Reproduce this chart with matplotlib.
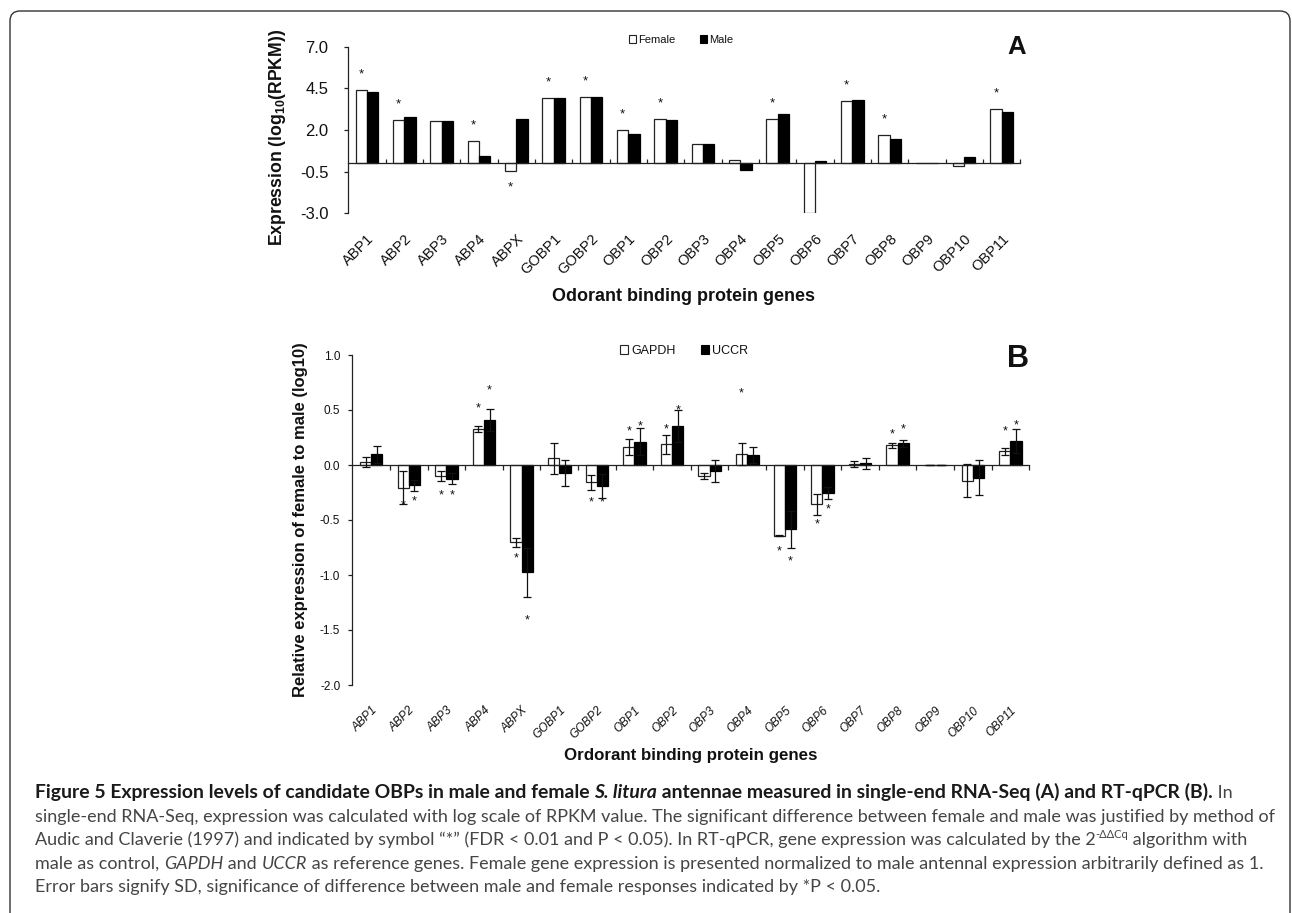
import matplotlib
matplotlib.use('Agg')
import matplotlib.pyplot as plt
import numpy as np
from matplotlib.patches import Patch, FancyBboxPatch
from matplotlib.transforms import IdentityTransform, blended_transform_factory, offset_copy
from matplotlib.font_manager import FontProperties

plt.rcParams['font.family'] = ['Liberation Sans', 'DejaVu Sans']
plt.rcParams['mathtext.fontset'] = 'custom'
plt.rcParams['mathtext.rm'] = 'Liberation Sans'
plt.rcParams['mathtext.bf'] = 'Liberation Sans:bold'
plt.rcParams['mathtext.it'] = 'Liberation Sans:italic'
plt.rcParams['axes.unicode_minus'] = False

# ---------------- data ----------------
genes = ['ABP1', 'ABP2', 'ABP3', 'ABP4', 'ABPX', 'GOBP1', 'GOBP2', 'OBP1', 'OBP2',
         'OBP3', 'OBP4', 'OBP5', 'OBP6', 'OBP7', 'OBP8', 'OBP9', 'OBP10', 'OBP11']

# Panel A: log10(RPKM)
female_rpkm = [4.40, 2.58, 2.56, 1.36, -0.46, 3.90, 4.00, 2.00, 2.68, 1.16,
               0.20, 2.64, -3.00, 3.76, 1.68, 0.00, -0.16, 3.24]
male_rpkm = [4.28, 2.76, 2.56, 0.46, 2.68, 3.94, 3.98, 1.78, 2.62, 1.16,
             -0.42, 2.98, 0.12, 3.80, 1.44, 0.00, 0.38, 3.08]
# +1: star above female bar, -1: star below female bar, 0: none
sig_rpkm = [1, 1, 0, 1, -1, 1, 1, 1, 1, 0, 0, 1, 0, 1, 1, 0, 0, 1]
a_yticks = [-3.0, -0.5, 2.0, 4.5, 7.0]

# Panel B: relative expression (log10), with SD
gapdh = [0.027, -0.206, -0.100, 0.327, -0.703, 0.060, -0.158, 0.164, 0.188, -0.100,
         0.100, -0.642, -0.358, 0.010, 0.179, 0.000, -0.142, 0.124]
gapdh_sd = [0.048, 0.147, 0.045, 0.023, 0.040, 0.143, 0.065, 0.070, 0.087, 0.027,
            0.097, 0.005, 0.094, 0.025, 0.020, 0.000, 0.150, 0.030]
uccr = [0.097, -0.185, -0.124, 0.410, -0.976, -0.073, -0.194, 0.212, 0.358, -0.055,
        0.088, -0.585, -0.258, 0.015, 0.197, 0.000, -0.115, 0.218]
uccr_sd = [0.075, 0.050, 0.052, 0.102, 0.224, 0.120, 0.109, 0.124, 0.145, 0.100,
           0.073, 0.170, 0.055, 0.050, 0.033, 0.000, 0.160, 0.106]
# significance star heights (data units)
star_gapdh = [None, -0.327, -0.236, 0.555, -0.812, None, -0.306, 0.342, 0.364, None,
              0.688, -0.752, -0.500, None, 0.318, None, None, 0.342]
star_uccr = [None, -0.297, -0.236, 0.712, -1.373, None, -0.306, 0.390, 0.530, None,
             None, -0.840, -0.370, None, 0.358, None, None, 0.394]
b_yticks = [-2.0, -1.5, -1.0, -0.5, 0.0, 0.5, 1.0]

caption_lines = [
    [("Figure 5 Expression levels of candidate OBPs in male and female ", 'bold', 'normal', 'n'),
     ("S. litura", 'bold', 'italic', 'n'),
     (" antennae measured in single-end RNA-Seq (A) and RT-qPCR (B).", 'bold', 'normal', 'n'),
     (" In", 'normal', 'normal', 'n')],
    [("single-end RNA-Seq, expression was calculated with log scale of RPKM value. The significant "
      "difference between female and male was justified by method of", 'normal', 'normal', 'n')],
    [("Audic and Claverie (1997) and indicated by symbol \u201c*\u201d (FDR < 0.01 and P < 0.05). "
      "In RT-qPCR, gene expression was calculated by the 2", 'normal', 'normal', 'n'),
     ("-\u0394\u0394Cq", 'normal', 'normal', 'sup'),
     (" algorithm with", 'normal', 'normal', 'n')],
    [("male as control, ", 'normal', 'normal', 'n'),
     ("GAPDH", 'normal', 'italic', 'n'),
     (" and ", 'normal', 'normal', 'n'),
     ("UCCR", 'normal', 'italic', 'n'),
     (" as reference genes. Female gene expression is presented normalized to male antennal "
      "expression arbitrarily defined as 1.", 'normal', 'normal', 'n')],
    [("Error bars signify SD, significance of difference between male and female responses "
      "indicated by *P < 0.05.", 'normal', 'normal', 'n')],
]

# ---------------- figure ----------------
W, H = 1292, 913
DPI = 100
fig = plt.figure(figsize=(W / DPI, H / DPI), dpi=DPI)
fig.patch.set_facecolor('white')


def fx(px):
    return px / W


def fy(py):
    return 1 - py / H


n = len(genes)
x = np.arange(n)
bw = 0.3
PT = 72.0 / DPI  # points per pixel


def setup_axes(ax, ylim, yticks, tick_fs, tick_pad, xdir):
    ax.set_xlim(-0.5, n - 0.5)
    ax.set_ylim(*ylim)
    ax.set_facecolor('none')
    for s in ('top', 'right'):
        ax.spines[s].set_visible(False)
    ax.spines['bottom'].set_position(('data', 0))
    for s in ('left', 'bottom'):
        ax.spines[s].set_linewidth(0.9)
        ax.spines[s].set_color('#222222')
    ax.set_xticks(x + 0.5)
    ax.set_xticklabels([])
    ax.tick_params(axis='x', direction=xdir, length=4.5 * PT, width=0.9, color='#222222')
    ax.set_yticks(yticks)
    ax.set_yticklabels([f'{v:.1f}' for v in yticks])
    ax.tick_params(axis='y', direction='out', length=4.5 * PT, width=0.9, color='#222222',
                   labelsize=tick_fs, pad=tick_pad, labelcolor='#111111')


def put_star(ax, xi, yi, fs, dy_pts):
    # centre the asterisk glyph at (xi, yi) shifted by dy_pts
    ax.annotate('*', xy=(xi, yi), xytext=(0, dy_pts - 0.56 * fs), textcoords='offset points',
                ha='center', va='baseline', fontsize=fs, color='#111111', zorder=5)


def cat_labels(ax, fs, pad_pts, italic):
    base = blended_transform_factory(ax.transData, ax.transAxes)
    tr = offset_copy(base, fig=fig, x=0, y=-pad_pts, units='points')
    for i, g in enumerate(genes):
        ax.text(i, 0, g, transform=tr, rotation=45, rotation_mode='anchor',
                ha='right', va='top', fontsize=fs, color='#111111',
                style='italic' if italic else 'normal')


# ---------- Panel A ----------
axA = fig.add_axes([fx(348.3), fy(213.3), (1020.3 - 348.3) / W, (213.3 - 46.7) / H])
setup_axes(axA, (-3.0, 7.0), a_yticks, 12, 11, 'in')
axA.bar(x - bw / 2, female_rpkm, width=bw, color='white', edgecolor='#222222', linewidth=0.9, zorder=2)
axA.bar(x + bw / 2, male_rpkm, width=bw, color='black', edgecolor='black', linewidth=0.9, zorder=2)
for i, s in enumerate(sig_rpkm):
    if s > 0:
        put_star(axA, i - bw / 2, max(female_rpkm[i], 0), 9.5, 20 * PT)
    elif s < 0:
        put_star(axA, i - bw / 2, min(female_rpkm[i], 0), 9.5, -12 * PT)
cat_labels(axA, 10.5, 13, False)
fig.text(fx(684), fy(301), 'Odorant binding protein genes', ha='center', va='baseline',
         fontsize=13, fontweight='bold', color='#111111')
fig.text(fx(278), fy(137), r'Expression (log$_{\mathbf{10}}$(RPKM))', rotation=90,
         ha='center', va='center', fontsize=12.7, fontweight='bold', color='#111111')
fig.text(fx(1017), fy(53.5), 'A', ha='center', va='baseline', fontsize=18.5,
         fontweight='bold', color='#111111')
legA = fig.legend(handles=[Patch(facecolor='white', edgecolor='#222222', linewidth=0.8, label='Female'),
                           Patch(facecolor='black', edgecolor='black', linewidth=0.8, label='Male')],
                  loc='center', bbox_to_anchor=(fx(681), fy(40)), ncol=2, frameon=False,
                  fontsize=8, handlelength=0.65, handleheight=0.65, handletextpad=0.2,
                  columnspacing=2.2, borderaxespad=0, borderpad=0)
for t in legA.get_texts():
    t.set_color('#111111')

# ---------- Panel B ----------
axB = fig.add_axes([fx(352.4), fy(685), (1029.3 - 352.4) / W, (685 - 355) / H])
setup_axes(axB, (-2.0, 1.0), b_yticks, 8.5, 5.5, 'out')
axB.bar(x - bw / 2, gapdh, width=bw, color='white', edgecolor='#222222', linewidth=0.9, zorder=2)
axB.bar(x + bw / 2, uccr, width=bw, color='black', edgecolor='black', linewidth=0.9, zorder=2)
axB.errorbar(x - bw / 2, gapdh, yerr=gapdh_sd, fmt='none', ecolor='#111111', elinewidth=0.9,
             capsize=2.6, capthick=0.9, zorder=3)
axB.errorbar(x + bw / 2, uccr, yerr=uccr_sd, fmt='none', ecolor='#111111', elinewidth=0.9,
             capsize=2.6, capthick=0.9, zorder=3)
for i in range(n):
    if star_gapdh[i] is not None:
        put_star(axB, i - bw / 2, star_gapdh[i], 9, 0)
    if star_uccr[i] is not None:
        put_star(axB, i + bw / 2, star_uccr[i], 9, 0)
cat_labels(axB, 8.5, 14, True)
fig.text(fx(690.8), fy(760), 'Ordorant binding protein genes', ha='center', va='baseline',
         fontsize=12.2, fontweight='bold', color='#111111')
fig.text(fx(300), fy(520), 'Relative expression of female to male (log10)', rotation=90,
         ha='center', va='center', fontsize=12, fontweight='bold', color='#111111')
fig.text(fx(1018), fy(367), 'B', ha='center', va='baseline', fontsize=22,
         fontweight='bold', color='#111111')
legB = fig.legend(handles=[Patch(facecolor='white', edgecolor='#222222', linewidth=0.8, label='GAPDH'),
                           Patch(facecolor='black', edgecolor='black', linewidth=0.8, label='UCCR')],
                  loc='center', bbox_to_anchor=(fx(684), fy(351)), ncol=2, frameon=False,
                  fontsize=9, handlelength=0.65, handleheight=0.65, handletextpad=0.25,
                  columnspacing=2.0, borderaxespad=0, borderpad=0)
for t in legB.get_texts():
    t.set_color('#111111')

# ---------- frame ----------
frame = FancyBboxPatch((10, -20), 1280, H - 11 + 20, boxstyle='round,pad=0,rounding_size=10',
                       transform=IdentityTransform(), fill=False, edgecolor='#333333',
                       linewidth=1.0)
fig.add_artist(frame)

# ---------- caption ----------
renderer = fig.canvas.get_renderer()
CAP_FAM = ['Lato', 'DejaVu Sans']


def fp_for(weight, style, size):
    return FontProperties(family=CAP_FAM, weight=weight, style=style, size=size)


def measure(s, fp):
    t1 = fig.text(0, 0, 'x' + s + 'x', fontproperties=fp, transform=IdentityTransform())
    t2 = fig.text(0, 0, 'xx', fontproperties=fp, transform=IdentityTransform())
    w = t1.get_window_extent(renderer).width - t2.get_window_extent(renderer).width
    t1.remove()
    t2.remove()
    return w


X0 = 35.0
ref_size = 10.0
w_ref = measure(caption_lines[1][0][0], fp_for('normal', 'normal', ref_size))
cap_size = ref_size * (1272 - X0) / w_ref

# bold title runs scaled so that the first line ends where the reference's does
w_bold = sum(measure(s, fp_for(wt, st, ref_size)) for s, wt, st, k in caption_lines[0] if wt == 'bold')
w_rest = sum(measure(s, fp_for(wt, st, cap_size)) for s, wt, st, k in caption_lines[0] if wt != 'bold')
bold_size = ref_size * (1237 - X0 - w_rest) / w_bold

baselines = [798, 821.6, 845.2, 868.8, 892.4]
for line, yb in zip(caption_lines, baselines):
    xp = X0
    for s, weight, style, kind in line:
        base_size = bold_size if weight == 'bold' else cap_size
        size = base_size * (0.62 if kind == 'sup' else 1.0)
        rise = cap_size / PT * 0.40 if kind == 'sup' else 0.0
        fp = fp_for(weight, style, size)
        color = '#1a1a1a' if weight == 'bold' else '#454545'
        fig.text(xp, H - yb + rise, s, fontproperties=fp, transform=IdentityTransform(),
                 ha='left', va='baseline', color=color)
        xp += measure(s, fp)

fig.savefig('out.png', dpi=DPI)
